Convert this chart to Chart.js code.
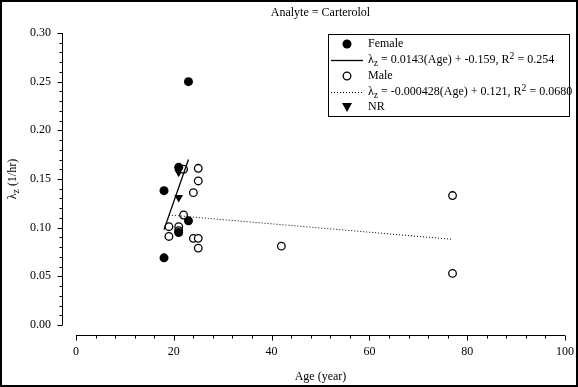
<!DOCTYPE html>
<html>
<head>
<meta charset="utf-8">
<script src="https://cdn.jsdelivr.net/npm/chart.js@4"></script>
<style>
  html, body { margin: 0; padding: 0; background: #fff; }
  #wrap { width: 574px; height: 383px; border: 2px solid #000; position: relative; }
</style>
</head>
<body>
<div id="wrap"><canvas id="chart" width="574" height="383"></canvas></div>
<script>
// values
const femaleAge = [18, 18, 21, 21, 23, 23];
const femaleLz  = [0.138, 0.069, 0.162, 0.095, 0.250, 0.107];

const maleAge = [19, 19, 21, 21, 22, 22, 24, 24, 25, 25, 25, 25, 42, 77, 77];
const maleLz  = [0.101, 0.091, 0.101, 0.097, 0.160, 0.113, 0.136, 0.089, 0.161, 0.148, 0.089, 0.079, 0.081, 0.133, 0.053];

const nrAge = [21, 21];
const nrLz  = [0.131, 0.157];

// fitted lines (end points as drawn)
const femaleFitAge = [18, 23];
const femaleFitLz  = [0.098, 0.170];
const maleFitAge = [19, 77];
const maleFitLz  = [0.113, 0.088];

const xTickLabels = ['0', '20', '40', '60', '80', '100'];
const yTickLabels = ['0.00', '0.05', '0.10', '0.15', '0.20', '0.25', '0.30'];

const FONT = '"Liberation Serif", "Times New Roman", serif';

const pts = (xs, ys) => xs.map((x, i) => ({ x, y: ys[i] }));

// text with sub/superscripts: parts = [[text, 'n'|'sub'|'sup'], ...]
function drawRich(ctx, parts, x, y, size) {
  for (const [t, k] of parts) {
    const s = k === 'n' ? size : size * 0.8;
    ctx.font = s + 'px ' + FONT;
    const dy = k === 'sub' ? size * 0.25 : (k === 'sup' ? -size * 0.3 : 0);
    ctx.fillText(t, x, y + dy);
    x += ctx.measureText(t).width;
  }
  return x;
}
function richWidth(ctx, parts, size) {
  let w = 0;
  for (const [t, k] of parts) {
    ctx.font = (k === 'n' ? size : size * 0.8) + 'px ' + FONT;
    w += ctx.measureText(t).width;
  }
  return w;
}

const sasLook = {
  id: 'sasLook',
  afterDraw(chart) {
    const ctx = chart.ctx;
    const xs = chart.scales.x, ys = chart.scales.y;
    const area = chart.chartArea;
    ctx.save();
    ctx.strokeStyle = '#000';
    ctx.fillStyle = '#000';
    ctx.lineWidth = 1;

    // y axis, offset to the left
    const ax = Math.round(area.left - 14) + 0.5;
    ctx.beginPath();
    ctx.moveTo(ax, ys.getPixelForValue(0.30));
    ctx.lineTo(ax, ys.getPixelForValue(0));
    for (let i = 0; i <= 30; i++) {
      const py = Math.round(ys.getPixelForValue(i / 100)) + 0.5;
      ctx.moveTo(ax, py);
      ctx.lineTo(ax - (i % 5 === 0 ? 5 : 3), py);
    }
    ctx.stroke();

    // x axis, offset below
    const ay = Math.round(area.bottom + 10) + 0.5;
    ctx.beginPath();
    ctx.moveTo(xs.getPixelForValue(0), ay);
    ctx.lineTo(xs.getPixelForValue(100), ay);
    for (let i = 0; i <= 25; i++) {
      const px = Math.round(xs.getPixelForValue(i * 4)) + 0.5;
      ctx.moveTo(px, ay);
      ctx.lineTo(px, ay + (i % 5 === 0 ? 5 : 3));
    }
    ctx.stroke();

    // title
    ctx.textAlign = 'center';
    ctx.textBaseline = 'middle';
    ctx.font = '12px ' + FONT;
    ctx.fillText('Analyte = Carterolol', (area.left + area.right) / 2, 11);

    // y axis title
    const yt = [['λ', 'n'], ['z', 'sub'], [' (1/hr)', 'n']];
    ctx.save();
    ctx.translate(11, (area.top + area.bottom) / 2);
    ctx.rotate(-Math.PI / 2);
    ctx.textAlign = 'left';
    drawRich(ctx, yt, -richWidth(ctx, yt, 12) / 2, 0, 12);
    ctx.restore();

    // legend
    const bx = 326, by = 32, bw = 241, bh = 82;
    ctx.lineWidth = 1;
    ctx.strokeRect(bx + 0.5, by + 0.5, bw, bh);
    const rows = [42, 58, 74, 90, 105];
    const sx = 345, tx = 366;
    ctx.textAlign = 'left';
    // Female
    ctx.beginPath(); ctx.arc(sx, rows[0], 4.5, 0, Math.PI * 2); ctx.fill();
    drawRich(ctx, [['Female', 'n']], tx, rows[0], 12);
    // female fit
    ctx.beginPath(); ctx.moveTo(329, rows[1] + 0.5); ctx.lineTo(361, rows[1] + 0.5); ctx.lineWidth = 1.3; ctx.stroke();
    drawRich(ctx, [['λ', 'n'], ['z', 'sub'], [' = 0.0143(Age) + -0.159, R', 'n'], ['2', 'sup'], [' = 0.254', 'n']], tx, rows[1], 12);
    // Male
    ctx.beginPath(); ctx.arc(sx, rows[2], 3.8, 0, Math.PI * 2); ctx.lineWidth = 1.3; ctx.stroke();
    drawRich(ctx, [['Male', 'n']], tx, rows[2], 12);
    // male fit
    ctx.save();
    ctx.setLineDash([1, 2]); ctx.lineWidth = 1;
    ctx.beginPath(); ctx.moveTo(329, rows[3] + 0.5); ctx.lineTo(361, rows[3] + 0.5); ctx.stroke();
    ctx.restore();
    drawRich(ctx, [['λ', 'n'], ['z', 'sub'], [' = -0.000428(Age) + 0.121, R', 'n'], ['2', 'sup'], [' = 0.0680', 'n']], tx, rows[3], 12);
    // NR
    ctx.beginPath();
    ctx.moveTo(sx - 5, rows[4] - 4); ctx.lineTo(sx + 5, rows[4] - 4); ctx.lineTo(sx, rows[4] + 5); ctx.closePath(); ctx.fill();
    drawRich(ctx, [['NR', 'n']], tx, rows[4], 12);

    ctx.restore();
  }
};

new Chart(document.getElementById('chart'), {
  type: 'scatter',
  data: {
    datasets: [
      {
        label: 'Female fit',
        data: pts(femaleFitAge, femaleFitLz),
        showLine: true,
        borderColor: '#000',
        borderWidth: 1.3,
        pointRadius: 0
      },
      {
        label: 'Male fit',
        data: pts(maleFitAge, maleFitLz),
        showLine: true,
        borderColor: '#000',
        borderWidth: 1,
        borderDash: [1, 2],
        pointRadius: 0
      },
      {
        label: 'Female',
        data: pts(femaleAge, femaleLz),
        pointStyle: 'circle',
        pointRadius: 4.5,
        backgroundColor: '#000',
        borderColor: '#000',
        borderWidth: 0
      },
      {
        label: 'Male',
        data: pts(maleAge, maleLz),
        pointStyle: 'circle',
        pointRadius: 3.8,
        backgroundColor: '#fff',
        borderColor: '#000',
        borderWidth: 1.3
      },
      {
        label: 'NR',
        data: pts(nrAge, nrLz),
        pointStyle: 'triangle',
        rotation: 180,
        pointRadius: 5,
        backgroundColor: '#000',
        borderColor: '#000',
        borderWidth: 0
      }
    ]
  },
  options: {
    responsive: false,
    animation: false,
    layout: { padding: { top: 31, right: 11, left: 0, bottom: 0 } },
    plugins: {
      legend: { display: false },
      title: { display: false },
      tooltip: { enabled: false }
    },
    scales: {
      x: {
        type: 'linear',
        min: 0,
        max: 100,
        grid: { display: false, drawTicks: false },
        border: { display: false },
        ticks: {
          stepSize: 20,
          padding: 20,
          color: '#000',
          font: { family: FONT, size: 12 },
          callback: (v, i) => xTickLabels[i]
        },
        title: {
          display: true,
          text: 'Age (year)',
          color: '#000',
          font: { family: FONT, size: 12 },
          padding: { top: 0, bottom: 1 }
        },
        afterFit: (s) => { s.height = 60; s.paddingLeft = 0; s.paddingRight = 0; }
      },
      y: {
        type: 'linear',
        min: 0,
        max: 0.30,
        grid: { display: false, drawTicks: false },
        border: { display: false },
        ticks: {
          stepSize: 0.05,
          padding: 25,
          color: '#000',
          font: { family: FONT, size: 12 },
          callback: (v, i) => yTickLabels[i]
        },
        afterFit: (s) => { s.width = 74; s.paddingTop = 0; s.paddingBottom = 0; }
      }
    }
  },
  plugins: [sasLook]
});
</script>
</body>
</html>
